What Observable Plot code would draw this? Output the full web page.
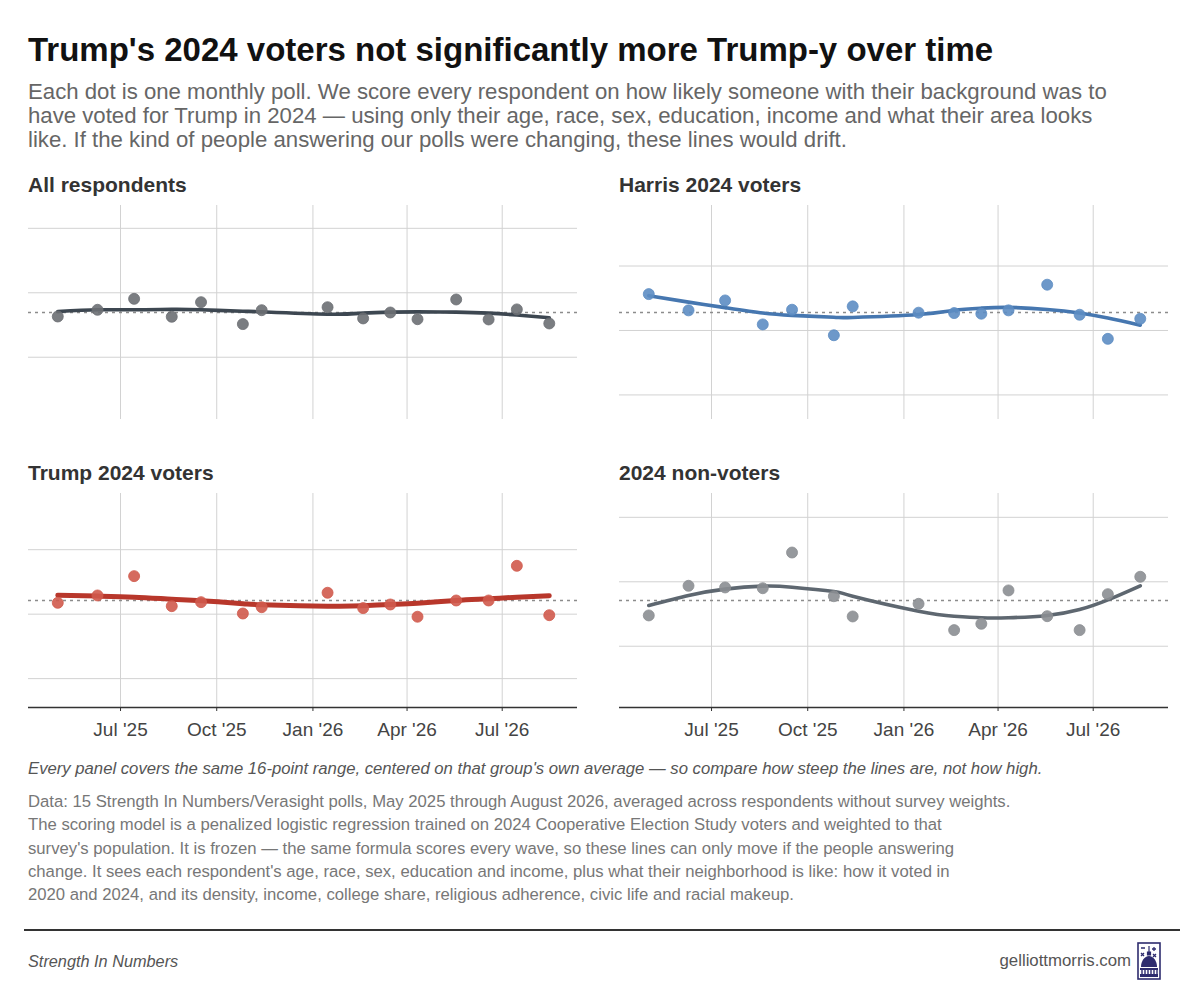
<!DOCTYPE html>
<html>
<head>
<meta charset="utf-8">
<script src="https://cdn.jsdelivr.net/npm/d3@7"></script>
<script src="https://cdn.jsdelivr.net/npm/@observablehq/plot@0.6"></script>
<style>
  body { margin: 0; background: #fff; font-family: "Liberation Sans", Arial, Helvetica, sans-serif; }
  #page { width: 1204px; height: 990px; position: relative; box-sizing: border-box; padding: 33px 0 0 28px; }
  h1 { margin: 0; font-size: 33px; line-height: 34px; font-weight: 700; color: #111; }
  .sub { margin: 13px 0 0 0; font-size: 22.2px; line-height: 24px; color: #666; }
  #panels { display: grid; grid-template-columns: 549px 549px; column-gap: 42px; margin-top: 22px; }
  .ptitle { font-size: 21px; line-height: 22px; font-weight: 700; color: #333; margin-bottom: 9px; }
  .cell.bottom { margin-top: 43px; }
  .cell svg { display: block; overflow: visible; }
  .caption { margin: 14px 0 0 0; font-size: 16.7px; line-height: 20px; font-style: italic; color: #555; }
  .note { margin: 11px 0 0 0; font-size: 16.7px; line-height: 23.3px; color: #777; }
  #rule { position: absolute; left: 24px; width: 1156px; top: 929px; border-top: 2px solid #333; }
  #src { position: absolute; left: 28px; top: 952px; font-size: 16.3px; font-style: italic; color: #555; }
  #site { position: absolute; right: 73px; top: 951px; font-size: 16.8px; color: #555; }
  #logo { position: absolute; left: 1137px; top: 942px; }
</style>
</head>
<body>
<div id="page">
  <h1>Trump's 2024 voters not significantly more Trump-y over time</h1>
  <p class="sub">Each dot is one monthly poll. We score every respondent on how likely someone with their background was to<br>have voted for Trump in 2024 — using only their age, race, sex, education, income and what their area looks<br>like. If the kind of people answering our polls were changing, these lines would drift.</p>
  <div id="panels"></div>
  <p class="caption">Every panel covers the same 16-point range, centered on that group's own average — so compare how steep the lines are, not how high.</p>
  <p class="note">Data: 15 Strength In Numbers/Verasight polls, May 2025 through August 2026, averaged across respondents without survey weights.<br>The scoring model is a penalized logistic regression trained on 2024 Cooperative Election Study voters and weighted to that<br>survey's population. It is frozen — the same formula scores every wave, so these lines can only move if the people answering<br>change. It sees each respondent's age, race, sex, education and income, plus what their neighborhood is like: how it voted in<br>2020 and 2024, and its density, income, college share, religious adherence, civic life and racial makeup.</p>
  <div id="rule"></div>
  <div id="src">Strength In Numbers</div>
  <div id="site">gelliottmorris.com</div>
  <svg id="logo" width="24" height="38" viewBox="0 0 24 38">
    <rect x="1" y="1" width="22" height="36" fill="none" stroke="#2e2c6e" stroke-width="1.6"/>
    <path d="M4 6h4M17 5v4M15 7h4M4 11l3 3M7 11l-3 3M16 12l3 3M19 12l-3 3" stroke="#2e2c6e" stroke-width="1.3"/>
    <path d="M12 4v6M10.5 10h3v3h-3z" stroke="#2e2c6e" stroke-width="1.2" fill="#2e2c6e"/>
    <path d="M4 25c0-6 3.5-11 8-11s8 5 8 11z" fill="#2e2c6e"/>
    <path d="M3 26h18v2H3zM3 32h18v3H3z" fill="#2e2c6e"/>
    <path d="M5 28v4M8 28v4M11 28v4M14 28v4M17 28v4M20 28v4" stroke="#2e2c6e" stroke-width="1.4"/>
  </svg>
</div>
<script>
// poll dates (one per monthly wave)
const pollDates = ["2025-05-02", "2025-06-09", "2025-07-14", "2025-08-19", "2025-09-16",
  "2025-10-26", "2025-11-13", "2026-01-15", "2026-02-18", "2026-03-16",
  "2026-04-11", "2026-05-18", "2026-06-18", "2026-07-15", "2026-08-15"];

// average Trump-2024 likelihood score, per wave (percent)
const allScores = [48.16, 48.68, 49.53, 48.14, 49.27, 47.57, 48.65, 48.88, 48.01, 48.47, 47.95, 49.48, 47.93, 48.71, 47.62];
const harrisScores = [32.82, 31.56, 32.33, 30.47, 31.61, 29.63, 31.87, 31.38, 31.35, 31.30, 31.56, 33.55, 31.22, 29.35, 30.91];
const trumpScores = [65.88, 66.45, 67.95, 65.62, 65.93, 65.05, 65.54, 66.66, 65.47, 65.75, 64.80, 66.06, 66.06, 68.75, 64.92];
const nonvoterScores = [42.39, 44.69, 44.56, 44.50, 47.27, 43.88, 42.31, 43.29, 41.25, 41.74, 44.33, 42.33, 41.25, 44.04, 45.39];

// smoothed trend, per wave
const allTrend = [48.55, 48.68, 48.68, 48.71, 48.68, 48.57, 48.52, 48.34, 48.42, 48.50, 48.52, 48.50, 48.42, 48.27, 48.06];
const harrisTrend = [32.70, 32.20, 31.77, 31.35, 31.17, 31.03, 31.01, 31.24, 31.56, 31.73, 31.79, 31.63, 31.35, 30.96, 30.41];
const trumpTrend = [66.47, 66.40, 66.32, 66.16, 66.04, 65.81, 65.73, 65.62, 65.65, 65.75, 65.85, 66.06, 66.19, 66.32, 66.43];
const nonvoterTrend = [43.16, 43.94, 44.43, 44.66, 44.58, 44.25, 43.88, 42.72, 42.33, 42.21, 42.21, 42.39, 42.85, 43.60, 44.69];

const xTickDates = ["2025-07-01", "2025-10-01", "2026-01-01", "2026-04-01", "2026-07-01"];

const panels = [
  {title: "All respondents", scores: allScores, trend: allTrend, dot: "#6c6f73", line: "#3d4751", lw: 3.6},
  {title: "Harris 2024 voters", scores: harrisScores, trend: harrisTrend, dot: "#5d8dc3", line: "#4677b0", lw: 3.6},
  {title: "Trump 2024 voters", scores: trumpScores, trend: trumpTrend, dot: "#d05a4d", line: "#b8372b", lw: 5},
  {title: "2024 non-voters", scores: nonvoterScores, trend: nonvoterTrend, dot: "#8b8e92", line: "#5e6770", lw: 3.6}
];

const halfRange = 8.3;
const xTicks = xTickDates.map(d => new Date(d));
const fmt = d3.utcFormat("%b '%y");

panels.forEach((p, i) => {
  const bottom = i >= 2;
  const rows = pollDates.map((d, j) => ({date: new Date(d), score: p.scores[j], trend: p.trend[j]}));
  const m = d3.mean(p.scores);
  const lo = m - halfRange, hi = m + halfRange;
  const yTicks = d3.range(Math.ceil(lo / 5) * 5, hi, 5);

  const chart = Plot.plot({
    width: 549,
    height: bottom ? 252 : 214,
    marginLeft: 0, marginRight: 0, marginTop: 0,
    marginBottom: bottom ? 38 : 0,
    style: {fontFamily: "Liberation Sans, Arial, sans-serif", fontSize: "19px", color: "#444"},
    x: {type: "utc", domain: [new Date("2025-04-04"), new Date("2026-09-11")], axis: null},
    y: {domain: [lo, hi], axis: null},
    marks: [
      Plot.gridY(yTicks, {stroke: "#d2d2d2", strokeOpacity: 1, strokeWidth: 1}),
      Plot.gridX(xTicks, {stroke: "#d2d2d2", strokeOpacity: 1, strokeWidth: 1}),
      Plot.ruleY([m], {stroke: "#8c8c8c", strokeWidth: 1.3, strokeDasharray: "3,4"}),
      Plot.line(rows, {x: "date", y: "trend", curve: "natural", stroke: p.line, strokeWidth: p.lw}),
      Plot.dot(rows, {x: "date", y: "score", r: 5.5, fill: p.dot, fillOpacity: 0.9, stroke: p.dot, strokeWidth: 0.8}),
      bottom ? Plot.ruleY([lo], {stroke: "#333", strokeWidth: 1.6}) : null,
      bottom ? Plot.axisX(xTicks, {tickFormat: fmt, tickSize: 4, tickPadding: 11, stroke: "#333", fill: "#444", fontSize: 19}) : null
    ]
  });

  const cell = document.createElement("div");
  cell.className = "cell" + (bottom ? " bottom" : "");
  const t = document.createElement("div");
  t.className = "ptitle";
  t.textContent = p.title;
  cell.appendChild(t);
  cell.appendChild(chart);
  document.getElementById("panels").appendChild(cell);
});
</script>
</body>
</html>
